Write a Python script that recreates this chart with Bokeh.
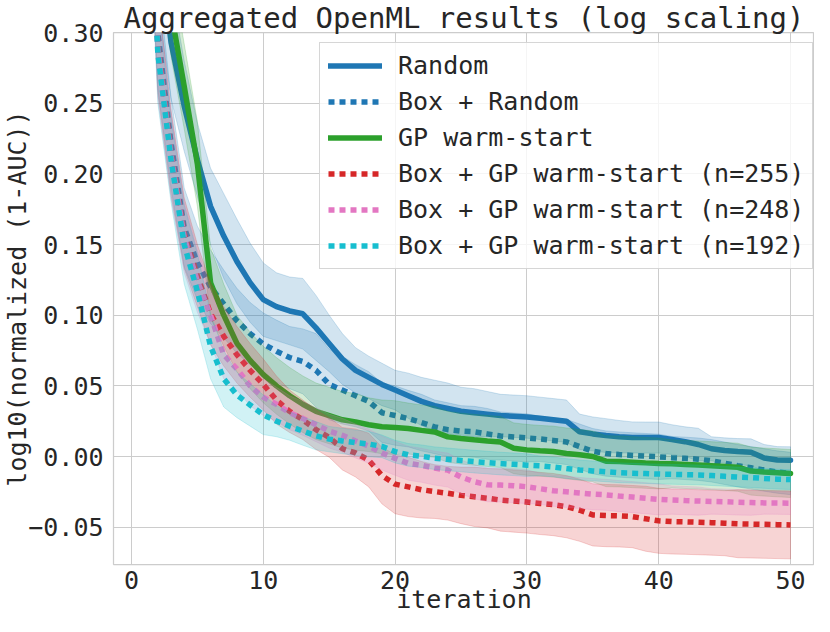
import numpy as np
from bokeh.plotting import figure
from bokeh.models import Range1d, FixedTicker, CustomJSTickFormatter, Legend, LegendItem
from bokeh.embed import file_html
from bokeh.resources import INLINE

FONT = "DejaVu Sans Mono"
TXT = "#262626"

iterations = list(range(1, 51))
x_ticks = [0, 10, 20, 30, 40, 50]
y_ticks = [-0.05, 0.0, 0.05, 0.10, 0.15, 0.20, 0.25, 0.30]
title_text = "Aggregated OpenML results (log scaling)"
x_label = "iteration"
y_label = "log10(normalized (1-AUC))"

labels = ["Random", "Box + Random", "GP warm-start",
          "Box + GP warm-start (n=255)", "Box + GP warm-start (n=248)",
          "Box + GP warm-start (n=192)"]

random_mean = [0.50, 0.37, 0.293, 0.248, 0.210, 0.177, 0.156, 0.138, 0.123, 0.111,
               0.106, 0.103, 0.101, 0.091, 0.080, 0.069, 0.061, 0.056, 0.051, 0.047,
               0.043, 0.039, 0.036, 0.034, 0.032, 0.031, 0.030, 0.029, 0.0285, 0.028,
               0.027, 0.026, 0.025, 0.0175, 0.016, 0.0148, 0.014, 0.0135, 0.0134, 0.0134,
               0.012, 0.0105, 0.0085, 0.0055, 0.0042, 0.0035, 0.003, -0.001, -0.0025, -0.0026]
random_err = [0.06, 0.05, 0.04, 0.032, 0.026, 0.027, 0.030, 0.030, 0.028, 0.026,
              0.024, 0.024, 0.025, 0.023, 0.020, 0.018, 0.016, 0.015, 0.015, 0.014,
              0.016, 0.017, 0.018, 0.018, 0.017, 0.017, 0.016, 0.015, 0.015, 0.015,
              0.015, 0.015, 0.015, 0.0125, 0.012, 0.012, 0.0115, 0.011, 0.011, 0.011,
              0.0105, 0.0105, 0.0115, 0.0085, 0.009, 0.0092, 0.0095, 0.0095, 0.0095, 0.0095]

box_random_mean = [0.50, 0.30, 0.222, 0.162, 0.137, 0.120, 0.108, 0.096, 0.087, 0.0796,
                   0.0745, 0.070, 0.0673, 0.061, 0.051, 0.047, 0.043, 0.039, 0.031, 0.029,
                   0.0268, 0.024, 0.021, 0.019, 0.018, 0.0175, 0.016, 0.0145, 0.0138, 0.0132,
                   0.0124, 0.0114, 0.0103, 0.007, 0.0038, 0.0021, 0.0014, 0.0008, 0.0003, -0.0002,
                   -0.0008, -0.0013, -0.0019, -0.003, -0.0048, -0.0065, -0.008, -0.0095, -0.011, -0.012]
box_random_err = [0.05, 0.04, 0.032, 0.028, 0.026, 0.026, 0.024, 0.023, 0.022, 0.022,
                  0.022, 0.022, 0.023, 0.026, 0.025, 0.024, 0.022, 0.021, 0.021, 0.021,
                  0.020, 0.020, 0.019, 0.019, 0.018, 0.018, 0.018, 0.017, 0.017, 0.017,
                  0.016, 0.016, 0.016, 0.016, 0.016, 0.016, 0.016, 0.016, 0.016, 0.016,
                  0.015, 0.015, 0.015, 0.015, 0.015, 0.015, 0.015, 0.015, 0.015, 0.015]

gp_mean = [0.52, 0.40, 0.315, 0.262, 0.207, 0.123, 0.100, 0.080, 0.068, 0.058,
           0.050, 0.043, 0.037, 0.032, 0.029, 0.026, 0.0245, 0.0225, 0.021, 0.0205,
           0.0198, 0.0185, 0.0174, 0.0139, 0.0127, 0.0118, 0.011, 0.0103, 0.0058, 0.0047,
           0.004, 0.0035, 0.0022, 0.0012, 0.0, -0.0033, -0.0035, -0.004, -0.0045, -0.0049,
           -0.0052, -0.0056, -0.006, -0.0065, -0.007, -0.0076, -0.0103, -0.011, -0.0115, -0.012]
gp_err = [0.05, 0.04, 0.032, 0.030, 0.030, 0.025, 0.022, 0.020, 0.020, 0.020,
          0.020, 0.020, 0.020, 0.020, 0.020, 0.020, 0.020, 0.019, 0.019, 0.019,
          0.018, 0.018, 0.018, 0.018, 0.018, 0.018, 0.018, 0.018, 0.018, 0.018,
          0.018, 0.018, 0.018, 0.018, 0.018, 0.018, 0.018, 0.018, 0.018, 0.018,
          0.017, 0.017, 0.017, 0.017, 0.017, 0.017, 0.017, 0.017, 0.017, 0.017]

n255_mean = [0.50, 0.292, 0.215, 0.158, 0.128, 0.101, 0.085, 0.072, 0.061, 0.051,
             0.040, 0.032, 0.026, 0.019, 0.0135, 0.0055, 0.0025, -0.0025, -0.0135, -0.0195,
             -0.0215, -0.0235, -0.0248, -0.026, -0.0275, -0.0285, -0.0295, -0.0308, -0.0315, -0.0322,
             -0.0332, -0.034, -0.0355, -0.038, -0.0413, -0.0418, -0.042, -0.0425, -0.044, -0.0455,
             -0.046, -0.0462, -0.0465, -0.0468, -0.0472, -0.0476, -0.0478, -0.048, -0.0482, -0.0484]
n255_err = [0.04, 0.035, 0.03, 0.025, 0.022, 0.022, 0.021, 0.020, 0.019, 0.018,
            0.017, 0.015, 0.014, 0.014, 0.014, 0.015, 0.017, 0.019, 0.020, 0.021,
            0.021, 0.020, 0.019, 0.019, 0.020, 0.021, 0.021, 0.022, 0.022, 0.022,
            0.022, 0.022, 0.022, 0.022, 0.022, 0.022, 0.022, 0.022, 0.023, 0.023,
            0.023, 0.023, 0.023, 0.023, 0.023, 0.024, 0.024, 0.024, 0.024, 0.024]

n248_mean = [0.50, 0.288, 0.213, 0.155, 0.124, 0.100, 0.072, 0.062, 0.050, 0.042,
             0.037, 0.031, 0.027, 0.0225, 0.018, 0.015, 0.011, 0.0073, 0.0025, -0.0013,
             -0.0048, -0.0062, -0.0082, -0.0096, -0.0145, -0.0178, -0.020, -0.0202, -0.0206, -0.0214,
             -0.0228, -0.0242, -0.025, -0.0258, -0.0266, -0.0271, -0.028, -0.0287, -0.0295, -0.0303,
             -0.0308, -0.0312, -0.0315, -0.0318, -0.032, -0.0324, -0.0326, -0.0328, -0.0329, -0.033]
n248_err = [0.04, 0.035, 0.03, 0.025, 0.022, 0.020, 0.017, 0.015, 0.014, 0.013,
            0.012, 0.012, 0.012, 0.012, 0.012, 0.012, 0.012, 0.012, 0.012, 0.012,
            0.012, 0.012, 0.012, 0.012, 0.012, 0.012, 0.012, 0.012, 0.012, 0.012,
            0.011, 0.011, 0.011, 0.011, 0.011, 0.011, 0.011, 0.011, 0.011, 0.011,
            0.010, 0.010, 0.010, 0.009, 0.009, 0.009, 0.009, 0.008, 0.008, 0.008]

n192_mean = [0.50, 0.285, 0.21, 0.150, 0.117, 0.078, 0.055, 0.0435, 0.0365, 0.0295,
             0.025, 0.0215, 0.018, 0.0147, 0.0123, 0.011, 0.0098, 0.0088, 0.0072, 0.0035,
             0.0012, 0.0002, -0.0012, -0.002, -0.0028, -0.0036, -0.0043, -0.005, -0.0055, -0.0061,
             -0.0066, -0.0074, -0.0085, -0.0095, -0.0102, -0.0108, -0.0115, -0.0118, -0.0121, -0.0124,
             -0.0126, -0.0128, -0.013, -0.0135, -0.014, -0.0145, -0.0149, -0.0155, -0.016, -0.0163]
n192_err = [0.04, 0.035, 0.03, 0.028, 0.027, 0.023, 0.020, 0.016, 0.015, 0.014,
            0.011, 0.010, 0.010, 0.010, 0.009, 0.009, 0.009, 0.009, 0.008, 0.008,
            0.008, 0.008, 0.008, 0.008, 0.008, 0.008, 0.008, 0.008, 0.008, 0.008,
            0.007, 0.007, 0.007, 0.007, 0.007, 0.007, 0.007, 0.007, 0.007, 0.007,
            0.007, 0.007, 0.007, 0.007, 0.007, 0.007, 0.007, 0.007, 0.007, 0.007]

colors = ["#1f77b4", "#1f77b4", "#2ca02c", "#d62728", "#e377c2", "#17becf"]
dashes = ["solid", "6 5", "solid", "6 5", "6 5", "6 5"]
means = [random_mean, box_random_mean, gp_mean, n255_mean, n248_mean, n192_mean]
errs = [random_err, box_random_err, gp_err, n255_err, n248_err, n192_err]

X0, X1 = -1.364, 51.82
Y0, Y1 = -0.0764, 0.30

p = figure(width=814, height=616, output_backend="svg", toolbar_location=None,
           x_range=Range1d(X0, X1), y_range=Range1d(Y0, Y1),
           min_border_left=112, min_border_right=0, min_border_top=32,
           min_border_bottom=51)
p.background_fill_color = "white"
p.border_fill_color = "white"
p.outline_line_color = "#cccccc"
p.outline_line_width = 1.25

p.title.text = title_text
p.title.text_font = FONT
p.title.text_font_size = "29px"
p.title.text_font_style = "normal"
p.title.text_color = TXT
p.title.align = "center"
p.title.standoff = -5
p.title.offset = 0

for g in (p.xgrid, p.ygrid):
    g.grid_line_color = "#cccccc"
    g.grid_line_width = 1

p.xaxis.ticker = FixedTicker(ticks=x_ticks)
p.yaxis.ticker = FixedTicker(ticks=y_ticks)
p.yaxis.formatter = CustomJSTickFormatter(
    code="return (tick < -1e-9 ? '\u2212' : '') + Math.abs(tick).toFixed(2);")

for ax in (p.xaxis, p.yaxis):
    ax.axis_line_color = None
    ax.major_tick_line_color = None
    ax.minor_tick_line_color = None
    ax.major_label_text_font = FONT
    ax.major_label_text_font_size = "25px"
    ax.major_label_text_color = TXT
    ax.axis_label_text_font = FONT
    ax.axis_label_text_font_size = "25px"
    ax.axis_label_text_font_style = "normal"
    ax.axis_label_text_color = TXT

p.xaxis.axis_label = x_label
p.yaxis.axis_label = y_label
p.xaxis.major_label_standoff = 0
p.xaxis.axis_label_standoff = -7
p.yaxis.major_label_standoff = 4
p.yaxis.axis_label_standoff = -7

x_arr = np.array(iterations, dtype=float)
items = []
for lab, col, dash, m, e in zip(labels, colors, dashes, means, errs):
    m = np.array(m)
    e = np.array(e)
    cap = "round" if dash == "solid" else "butt"
    r = p.line(x_arr, m, line_color=col, line_width=5.5, line_dash=dash, line_cap=cap)
    up = m + e
    lo = m - e
    p.patch(np.concatenate([x_arr, x_arr[::-1]]), np.concatenate([up, lo[::-1]]),
            fill_color=col, fill_alpha=0.2, line_color=col, line_alpha=0.2, line_width=1)
    items.append(LegendItem(label=lab, renderers=[r]))

legend = Legend(items=items, location=(206, 295), margin=0, padding=8,
                spacing=7, glyph_width=54, glyph_height=29, label_height=29,
                label_standoff=16, label_text_font=FONT, label_text_font_size="25px",
                label_text_color=TXT, border_line_color="#cccccc", border_line_alpha=0.8,
                background_fill_color="white", background_fill_alpha=0.8)
p.add_layout(legend)

open("out.html", "w").write(file_html(p, INLINE))
